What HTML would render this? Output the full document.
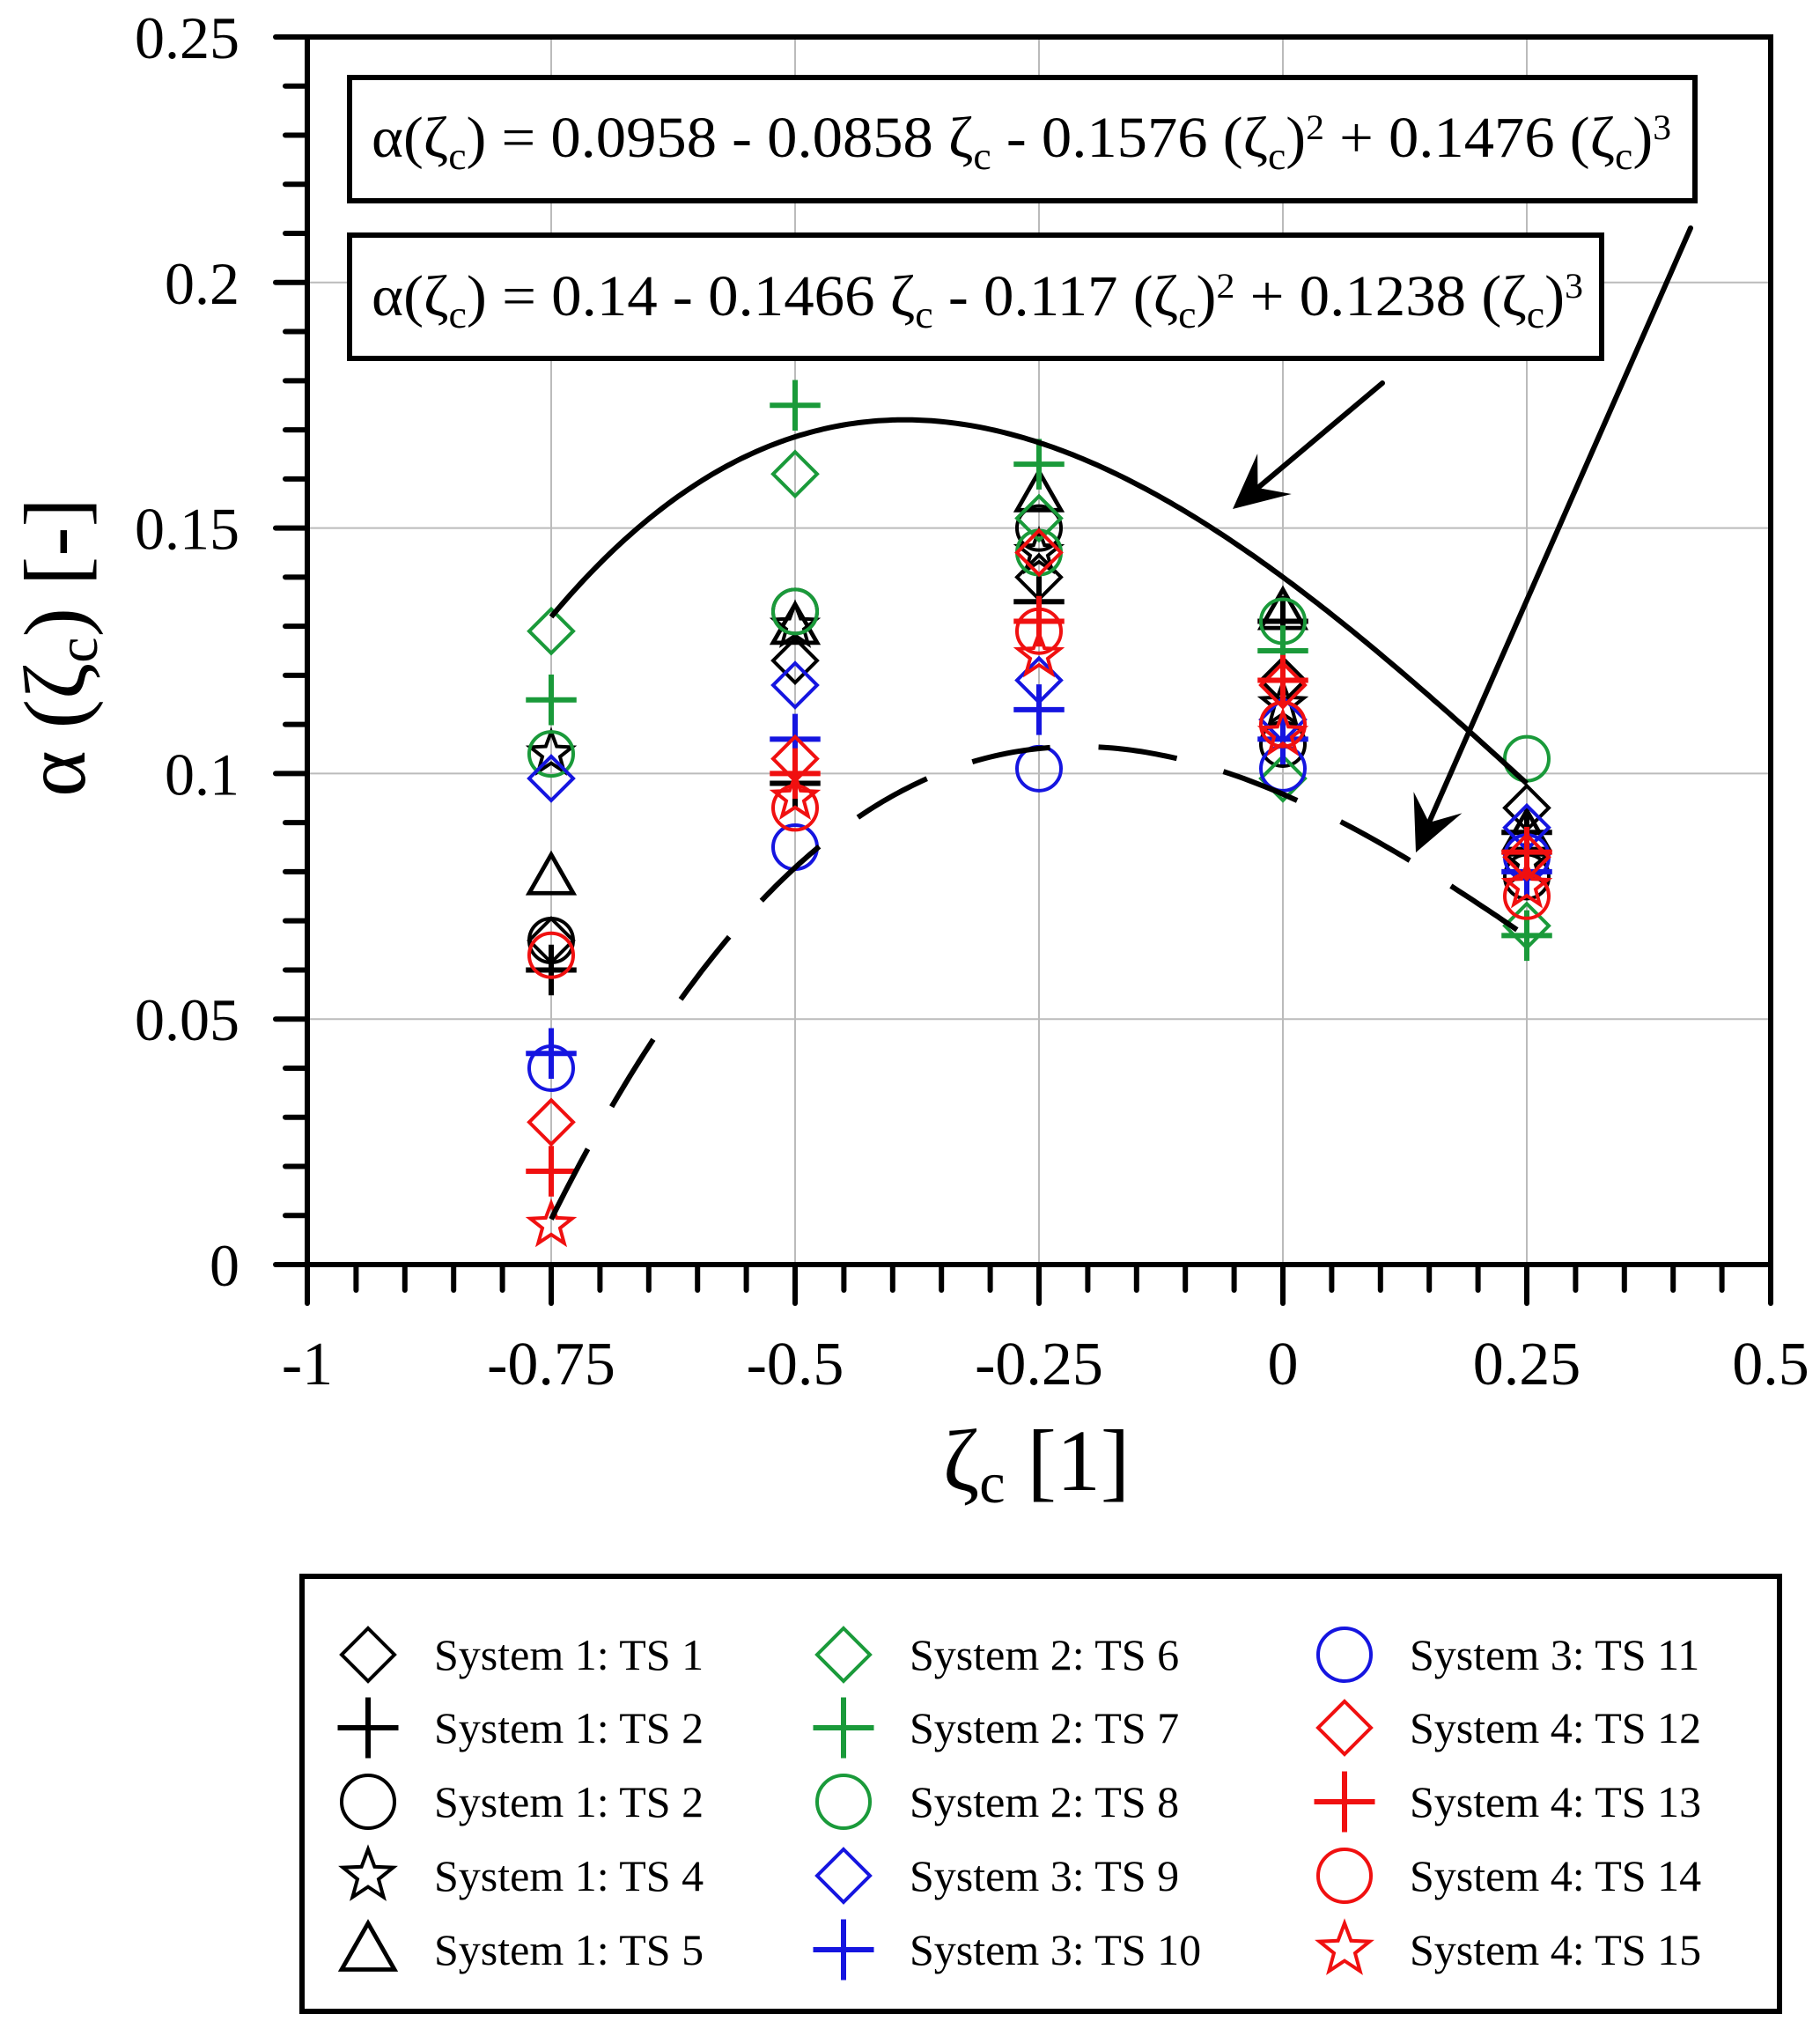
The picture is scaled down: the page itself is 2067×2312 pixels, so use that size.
<!DOCTYPE html>
<html><head><meta charset="utf-8"><style>
html,body{margin:0;padding:0;background:#fff;}
svg{display:block;font-family:"Liberation Serif",serif;}
</style></head><body>
<svg id="chart" width="2067" height="2312" viewBox="0 0 2067 2312" xmlns="http://www.w3.org/2000/svg"></svg>
<script>
const categories = [-0.75, -0.5, -0.25, 0, 0.25];
const seriesNames = ["System 1: TS 1","System 1: TS 2","System 1: TS 2","System 1: TS 4","System 1: TS 5","System 2: TS 6","System 2: TS 7","System 2: TS 8","System 3: TS 9","System 3: TS 10","System 3: TS 11","System 4: TS 12","System 4: TS 13","System 4: TS 14","System 4: TS 15"];
const seriesColors = ["#000","#000","#000","#000","#000","#1a9a3a","#1a9a3a","#1a9a3a","#1515e0","#1515e0","#1515e0","#f01010","#f01010","#f01010","#f01010"];
const seriesShapes = ["diamond","plus","circle","star","triangle","diamond","plus","circle","diamond","plus","circle","diamond","plus","circle","star"];
const ts1 = [0.066, 0.123, 0.140, 0.119, 0.093];
const ts2 = [0.060, 0.098, 0.135, 0.131, 0.088];
const ts3 = [0.066, 0.133, 0.150, 0.106, 0.079];
const ts4 = [0.104, 0.130, 0.145, 0.114, 0.082];
const ts5 = [0.079, 0.130, 0.157, 0.133, 0.088];
const ts6 = [0.129, 0.161, 0.152, 0.099, 0.069];
const ts7 = [0.115, 0.175, 0.163, 0.125, 0.067];
const ts8 = [0.104, 0.133, 0.145, 0.131, 0.103];
const ts9 = [0.099, 0.118, 0.119, 0.111, 0.089];
const ts10 = [0.043, 0.107, 0.113, 0.107, 0.080];
const ts11 = [0.040, 0.085, 0.101, 0.101, 0.083];
const ts12 = [0.029, 0.103, 0.145, 0.118, 0.083];
const ts13 = [0.019, 0.100, 0.131, 0.119, 0.084];
const ts14 = [0.063, 0.093, 0.129, 0.110, 0.075];
const ts15 = [0.008, 0.095, 0.124, 0.108, 0.077];
const seriesValues = [ts1,ts2,ts3,ts4,ts5,ts6,ts7,ts8,ts9,ts10,ts11,ts12,ts13,ts14,ts15];
const xTickLabels = ["-1","-0.75","-0.5","-0.25","0","0.25","0.5"];
const yTickLabels = ["0","0.05","0.1","0.15","0.2","0.25"];
const fitUpper = [0.14, -0.1466, -0.117, 0.1238];
const fitLower = [0.0958, -0.0858, -0.1576, 0.1476];

const NS = "http://www.w3.org/2000/svg";
const svg = document.getElementById("chart");
const X0 = 349, X1 = 2011, Y0 = 1436, Y1 = 42;
function xs(v){ return X0 + (v + 1) / 1.5 * (X1 - X0); }
function ys(v){ return Y0 - v / 0.25 * (Y0 - Y1); }
function mk(tag, attrs, parent){
  const e = document.createElementNS(NS, tag);
  for (const k in attrs) e.setAttribute(k, attrs[k]);
  (parent || svg).appendChild(e);
  return e;
}
const grid = mk("g", {});


for (let i = 1; i < 6; i++) mk("line", {x1: xs(-1 + i*0.25), x2: xs(-1 + i*0.25), y1: Y0, y2: Y1, stroke: "#bbb", "stroke-width": 2}, grid);
for (let i = 1; i < 5; i++) mk("line", {x1: X0, x2: X1, y1: ys(i*0.05), y2: ys(i*0.05), stroke: "#bbb", "stroke-width": 2}, grid);

function box(x, y, w, h, txt, base, tl, name){
  const g = mk("g", {});
  
  
  mk("rect", {x: x, y: y, width: w, height: h, fill: "#fff", stroke: "#000", "stroke-width": 6}, g);
  const t = mk("text", {x: 422, y: base, "font-size": 66, textLength: tl, lengthAdjust: "spacingAndGlyphs"}, g);
  t.innerHTML = txt;
}
box(397, 88, 1528, 140, 'α(ζ<tspan font-size="44" dy="14">c</tspan><tspan dy="-14">) = 0.0958 - 0.0858 ζ</tspan><tspan font-size="44" dy="14">c</tspan><tspan dy="-14"> - 0.1576 (ζ</tspan><tspan font-size="44" dy="14">c</tspan><tspan dy="-14">)</tspan><tspan font-size="40" dy="-20">2</tspan><tspan dy="20"> + 0.1476 (ζ</tspan><tspan font-size="44" dy="14">c</tspan><tspan dy="-14">)</tspan><tspan font-size="40" dy="-20">3</tspan>', 178, 1476, "formula-lower");
box(397, 267, 1422, 140, 'α(ζ<tspan font-size="44" dy="14">c</tspan><tspan dy="-14">) = 0.14 - 0.1466 ζ</tspan><tspan font-size="44" dy="14">c</tspan><tspan dy="-14"> - 0.117 (ζ</tspan><tspan font-size="44" dy="14">c</tspan><tspan dy="-14">)</tspan><tspan font-size="40" dy="-20">2</tspan><tspan dy="20"> + 0.1238 (ζ</tspan><tspan font-size="44" dy="14">c</tspan><tspan dy="-14">)</tspan><tspan font-size="40" dy="-20">3</tspan>', 358, 1376, "formula-upper");

function marker(shape, cx, cy, color, s, parent){
  const sw = 4;
  if (shape === "diamond") return mk("polygon", {points: `${cx},${cy-s} ${cx+s},${cy} ${cx},${cy+s} ${cx-s},${cy}`, fill: "none", stroke: color, "stroke-width": sw}, parent);
  if (shape === "circle") return mk("circle", {cx: cx, cy: cy, r: s, fill: "none", stroke: color, "stroke-width": sw}, parent);
  if (shape === "plus") return mk("path", {d: `M${cx-s*1.15},${cy}H${cx+s*1.15}M${cx},${cy-s*1.15}V${cy+s*1.15}`, fill: "none", stroke: color, "stroke-width": sw*1.5}, parent);
  if (shape === "triangle") return mk("polygon", {points: `${cx},${cy-s} ${cx+s},${cy+s*0.75} ${cx-s},${cy+s*0.75}`, fill: "none", stroke: color, "stroke-width": sw*1.2}, parent);
  if (shape === "star"){
    let p = [];
    for (let i = 0; i < 10; i++){ const r = i%2 ? s*0.42 : s; const a = -Math.PI/2 + i*Math.PI/5; p.push((cx + r*Math.cos(a)).toFixed(1) + "," + (cy + r*Math.sin(a)).toFixed(1)); }
    return mk("polygon", {points: p.join(" "), fill: "none", stroke: color, "stroke-width": sw}, parent);
  }
}
seriesValues.forEach((vals, si) => {
  const g = mk("g", {});
  
  
  vals.forEach((v, i) => {
    const m = marker(seriesShapes[si], xs(categories[i]), ys(v), seriesColors[si], 25, g);
    
    
  });
});

function poly(c, x){ return c[0] + c[1]*x + c[2]*x*x + c[3]*x*x*x; }
function curve(c, dash, name){
  let d = "";
  for (let i = 0; i <= 200; i++){ const x = -0.75 + i/200; d += (i ? "L" : "M") + xs(x).toFixed(1) + "," + ys(poly(c, x)).toFixed(1); }
  const p = mk("path", {d: d, fill: "none", stroke: "#000", "stroke-width": 6});
  if (dash) p.setAttribute("stroke-dasharray", dash);
  
  
}
curve(fitUpper, null, "fit-curve-upper");
curve(fitLower, "90 55", "fit-curve-lower");

function arrow(x1, y1, x2, y2, name){
  const g = mk("g", {});
  
  
  const a = Math.atan2(y2 - y1, x2 - x1), L = 62, W = 30;
  const bx = x2 - L*Math.cos(a), by = y2 - L*Math.sin(a);
  const mx = x2 - L*0.6*Math.cos(a), my = y2 - L*0.6*Math.sin(a);
  mk("line", {x1: x1, y1: y1, x2: mx, y2: my, stroke: "#000", "stroke-width": 6, "stroke-linecap": "round"}, g);
  const px = -Math.sin(a)*W, py = Math.cos(a)*W;
  mk("polygon", {points: `${x2},${y2} ${bx+px},${by+py} ${mx},${my} ${bx-px},${by-py}`, fill: "#000"}, g);
}
arrow(1570, 435, 1400, 578, "arrow-upper");
arrow(1920, 259, 1608, 968, "arrow-lower");

const ax = mk("g", {});


mk("rect", {x: X0, y: Y1, width: X1 - X0, height: Y0 - Y1, fill: "none", stroke: "#000", "stroke-width": 6}, ax);
for (let i = 0; i <= 30; i++){
  const x = xs(-1 + i*0.05), major = i % 5 === 0;
  mk("line", {x1: x, x2: x, y1: Y0, y2: Y0 + (major ? 44 : 29), stroke: "#000", "stroke-width": 6, "stroke-linecap": "round"}, ax);
}
for (let i = 0; i <= 25; i++){
  const y = ys(i*0.01), major = i % 5 === 0;
  mk("line", {x1: X0, x2: X0 - (major ? 36 : 25), y1: y, y2: y, stroke: "#000", "stroke-width": 6, "stroke-linecap": "round"}, ax);
}
xTickLabels.forEach((l, i) => {
  const t = mk("text", {x: xs(-1 + i*0.25), y: 1572, "font-size": 70, "text-anchor": "middle"});
  t.textContent = l;
  
  
});
yTickLabels.forEach((l, i) => {
  const t = mk("text", {x: 272, y: ys(i*0.05) + 24, "font-size": 68, "text-anchor": "end"});
  t.textContent = l;
  
  
});
const xt = mk("text", {x: 1177, y: 1692, "font-size": 100, "text-anchor": "middle"});
xt.innerHTML = 'ζ<tspan font-size="66" dy="14">c</tspan><tspan dy="-14"> [1]</tspan>';


const yt = mk("text", {x: 0, y: 0, "font-size": 100, "text-anchor": "middle", transform: "translate(96,735) rotate(-90)"});
yt.innerHTML = 'α (ζ<tspan font-size="66" dy="14">c</tspan><tspan dy="-14">) [-]</tspan>';



const lg = mk("g", {});


mk("rect", {x: 343, y: 1790, width: 1678, height: 494, fill: "#fff", stroke: "#000", "stroke-width": 6}, lg);
const colMX = [418, 958, 1527], colTX = [493, 1033, 1601], rowY = [1879, 1962, 2046, 2130, 2214];
seriesNames.forEach((n, si) => {
  const c = Math.floor(si / 5), r = si % 5;
  const e = mk("g", {}, lg);
  
  
  marker(seriesShapes[si], colMX[c], rowY[r], seriesColors[si], 30, e);
  const t = mk("text", {x: colTX[c], y: rowY[r] + 17, "font-size": 50}, e);
  t.textContent = n;
});
</script>
</body></html>
